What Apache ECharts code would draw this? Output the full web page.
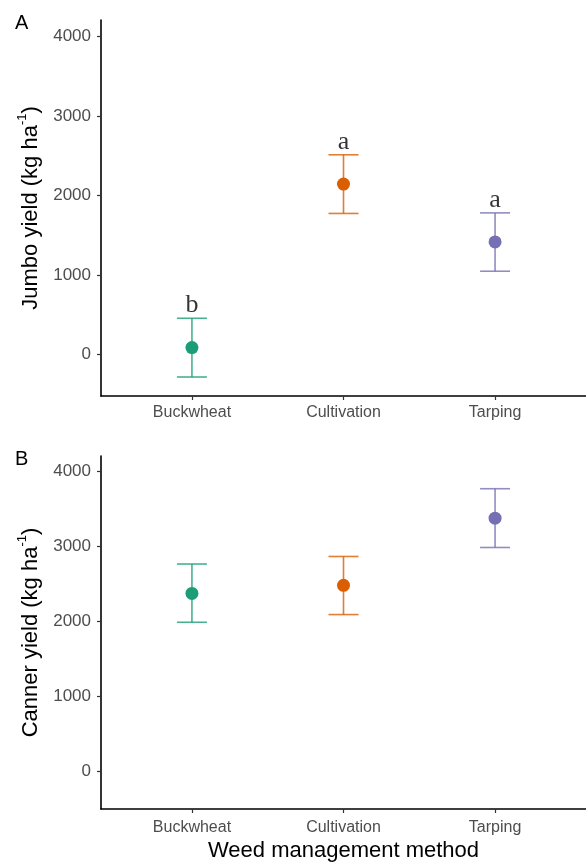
<!DOCTYPE html>
<html>
<head>
<meta charset="utf-8">
<script src="https://cdn.jsdelivr.net/npm/echarts@6/dist/echarts.min.js"></script>
<style>
html,body{margin:0;padding:0;background:#fff;}
#chart{width:586px;height:863px;}
</style>
</head>
<body>
<div id="chart"></div>
<script>
const categories = ['Buckwheat', 'Cultivation', 'Tarping'];
const colors = ['#1B9E77', '#D95F02', '#7570B3'];
const yTicks = [0, 1000, 2000, 3000, 4000];

const jumboMean = [88, 2145, 1418];
const jumboLow = [-282, 1776, 1049];
const jumboHigh = [457, 2514, 1783];
const jumboLetters = ['b', 'a', 'a'];

const cannerMean = [2374, 2481, 3378];
const cannerLow = [1988, 2091, 2987];
const cannerHigh = [2766, 2867, 3772];

const labelFont = 'Liberation Sans, Arial, sans-serif';

function xAxisCfg(gi, withName, margin) {
  return {
    type: 'value', gridIndex: gi, min: 0.4, max: 3.6,
    axisLine: { show: true, onZero: false, lineStyle: { color: '#000', width: 1.6 } },
    axisTick: { show: true, length: 4, customValues: [1, 2, 3], lineStyle: { color: '#333', width: 1.2 } },
    axisLabel: { customValues: [1, 2, 3], formatter: v => categories[Math.round(v) - 1] || '', color: '#4d4d4d', fontSize: 16, fontFamily: labelFont, margin: margin },
    splitLine: { show: false },
    name: withName ? 'Weed management method' : '',
    nameLocation: 'middle', nameGap: 31,
    nameTextStyle: { color: '#000', fontSize: 22, fontFamily: labelFont }
  };
}
function yAxisCfg(gi, min, max, label) {
  return {
    type: 'value', gridIndex: gi, min: min, max: max,
    axisLine: { show: true, onZero: false, lineStyle: { color: '#000', width: 1.6 } },
    axisTick: { show: true, length: 4, customValues: yTicks, lineStyle: { color: '#333', width: 1.2 } },
    axisLabel: { customValues: yTicks, formatter: v => String(v), color: '#4d4d4d', fontSize: 17, fontFamily: labelFont, margin: 10 },
    splitLine: { show: false },
    name: '{a|' + label + ' (kg ha}{s|-1}{a|)}',
    nameLocation: 'middle', nameGap: 57, nameRotate: 90,
    nameTextStyle: {
      rich: {
        a: { color: '#000', fontSize: 22, fontFamily: labelFont, verticalAlign: 'bottom', lineHeight: 26 },
        s: { color: '#000', fontSize: 13, fontFamily: labelFont, verticalAlign: 'top', lineHeight: 26 }
      }
    }
  };
}

function errorSeries(gi, low, high) {
  return {
    type: 'custom', xAxisIndex: gi, yAxisIndex: gi, z: 2,
    data: low.map((l, i) => [i + 1, l, high[i]]),
    renderItem: function (params, api) {
      const x = api.value(0);
      const lo = api.coord([x, api.value(1)]);
      const hi = api.coord([x, api.value(2)]);
      const half = 15;
      const style = { stroke: colors[params.dataIndex], lineWidth: 1.6, opacity: 0.8 };
      return {
        type: 'group',
        children: [
          { type: 'line', shape: { x1: lo[0], y1: lo[1], x2: hi[0], y2: hi[1] }, style: style },
          { type: 'line', shape: { x1: lo[0] - half, y1: lo[1], x2: lo[0] + half, y2: lo[1] }, style: style },
          { type: 'line', shape: { x1: hi[0] - half, y1: hi[1], x2: hi[0] + half, y2: hi[1] }, style: style }
        ]
      };
    }
  };
}
function pointSeries(gi, mean) {
  return {
    type: 'scatter', xAxisIndex: gi, yAxisIndex: gi, z: 3, symbolSize: 13,
    data: mean.map((m, i) => ({ value: [i + 1, m], itemStyle: { color: colors[i], opacity: 1 } }))
  };
}

const chart = echarts.init(document.getElementById('chart'));
chart.setOption({
  animation: false,
  backgroundColor: '#fff',
  title: [
    { text: 'A', left: 10, top: 8, textStyle: { fontSize: 20, fontWeight: 'normal', color: '#000', fontFamily: labelFont } },
    { text: 'B', left: 10, top: 444, textStyle: { fontSize: 20, fontWeight: 'normal', color: '#000', fontFamily: labelFont } }
  ],
  grid: [
    { left: 101, right: -1, top: 20, height: 376 },
    { left: 101, right: -1, top: 456, height: 354 }
  ],
  xAxis: [xAxisCfg(0, false, 9), xAxisCfg(1, true, 11)],
  yAxis: [yAxisCfg(0, -521, 4210, 'Jumbo yield'), yAxisCfg(1, -506, 4209, 'Canner yield')],
  series: [
    errorSeries(0, jumboLow, jumboHigh),
    pointSeries(0, jumboMean),
    {
      type: 'scatter', xAxisIndex: 0, yAxisIndex: 0, z: 4, symbolSize: 0,
      data: jumboHigh.map((h, i) => [i + 1, h]),
      label: {
        show: true, position: 'top', distance: 0,
        formatter: p => jumboLetters[p.dataIndex],
        color: '#000', fontSize: 26, fontFamily: 'Liberation Serif, Times New Roman, serif'
      }
    },
    errorSeries(1, cannerLow, cannerHigh),
    pointSeries(1, cannerMean)
  ]
});
</script>
</body>
</html>
